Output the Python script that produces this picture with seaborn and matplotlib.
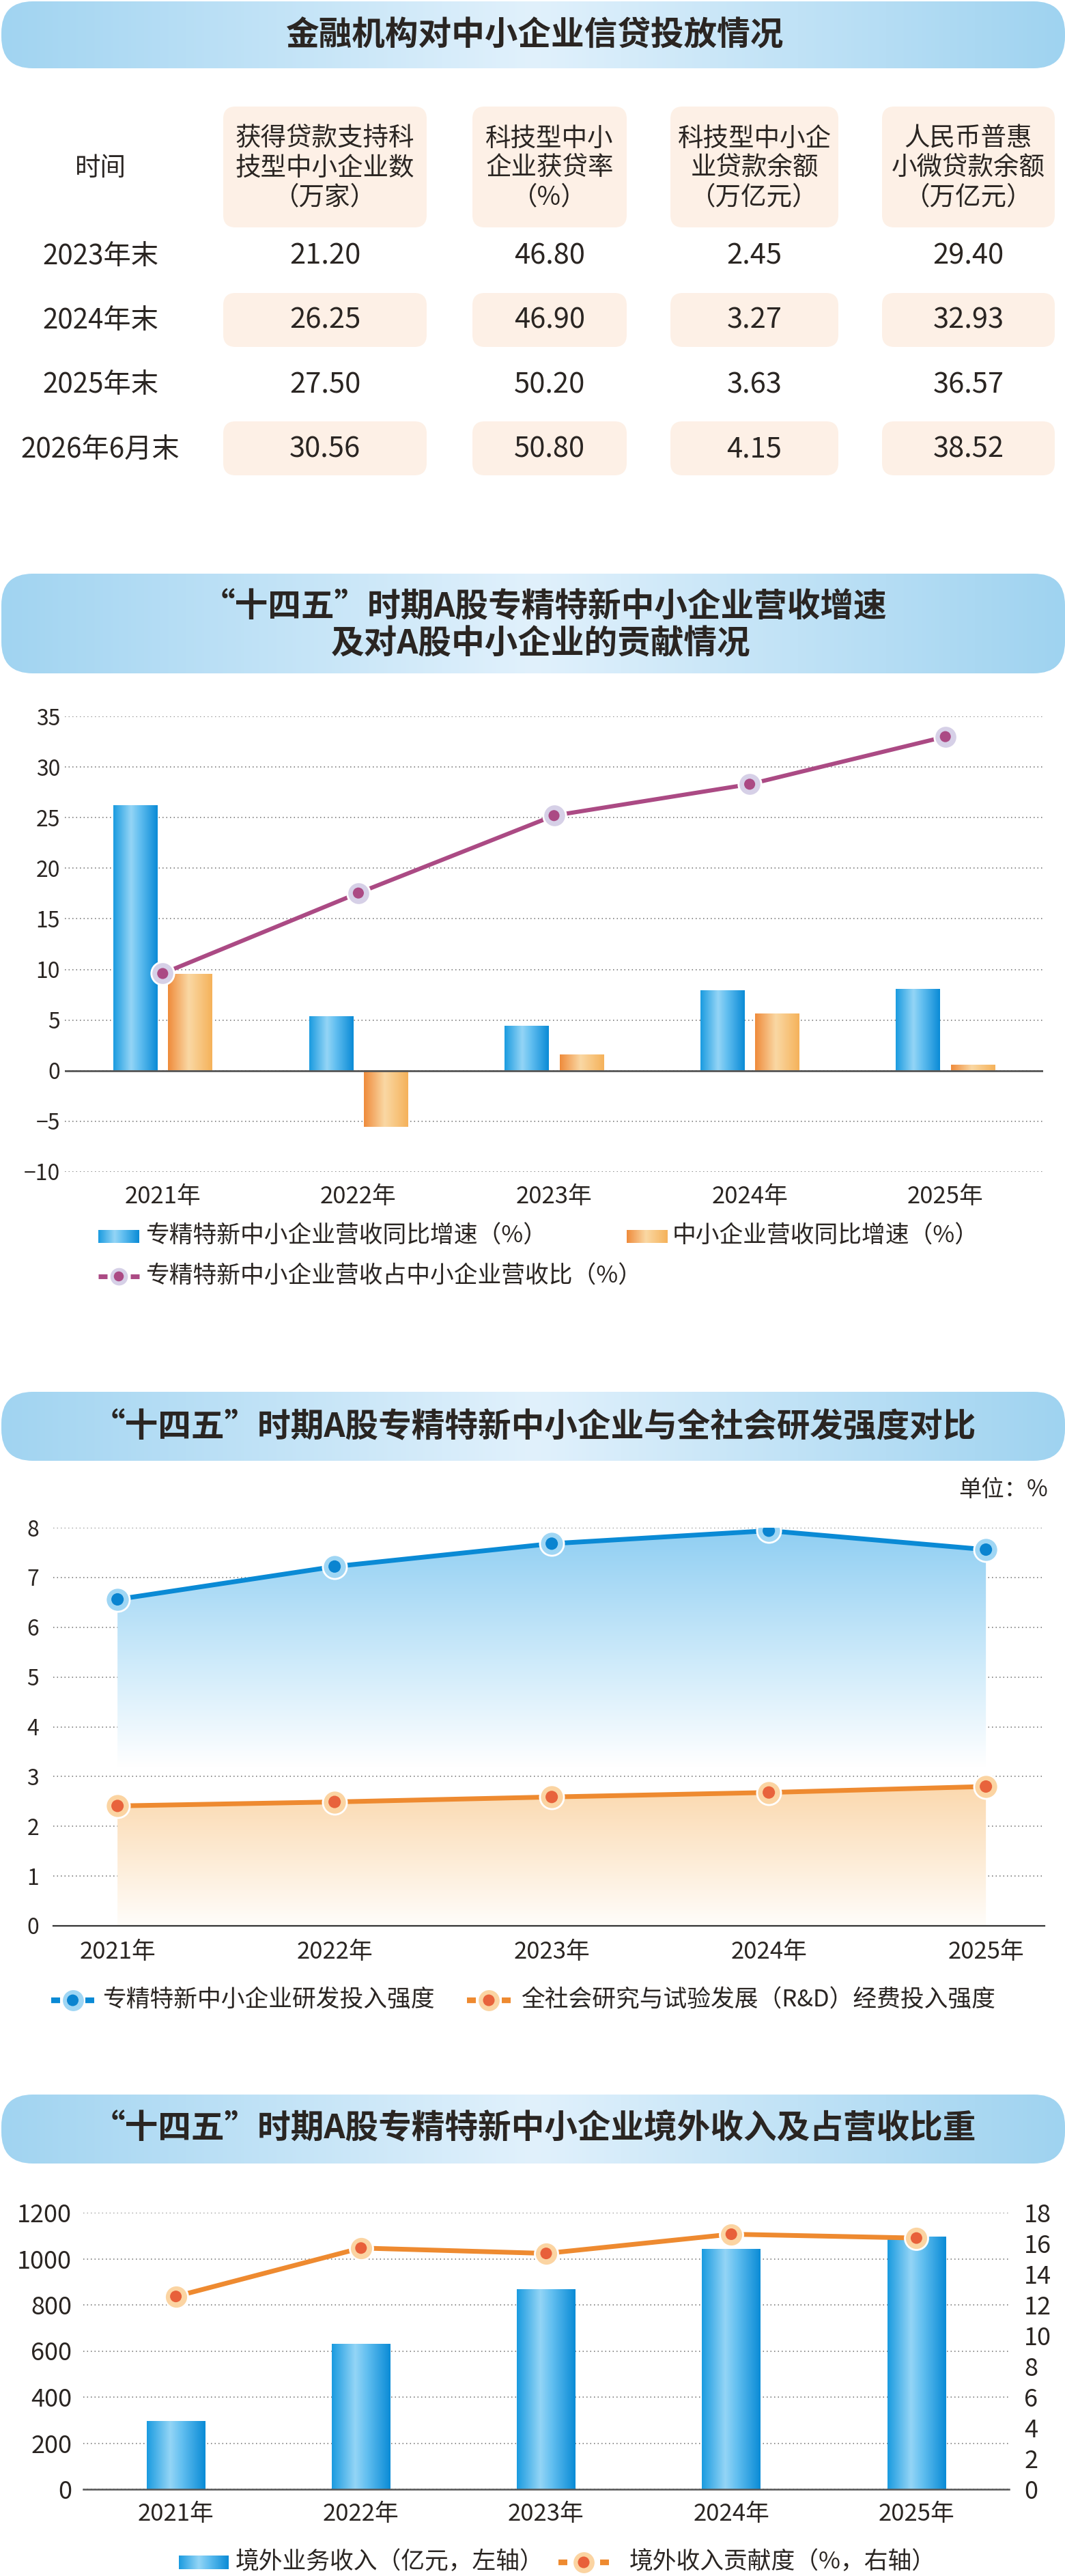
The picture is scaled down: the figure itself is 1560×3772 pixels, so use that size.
import numpy as np
import pandas as pd
import matplotlib
matplotlib.use("Agg")
import matplotlib.pyplot as plt
from matplotlib.patches import FancyBboxPatch
from matplotlib.colors import LinearSegmentedColormap
import seaborn as sns

# ---------------- data ----------------
table_times = ['2023年末', '2024年末', '2025年末', '2026年6月末']
table_headers = [
    ['获得贷款支持科', '技型中小企业数', '（万家）'],
    ['科技型中小', '企业获贷率', '（%）'],
    ['科技型中小企', '业贷款余额', '（万亿元）'],
    ['人民币普惠', '小微贷款余额', '（万亿元）'],
]
loan_firms = [21.20, 26.25, 27.50, 30.56]
loan_rate = [46.80, 46.90, 50.20, 50.80]
tech_loan_balance = [2.45, 3.27, 3.63, 4.15]
inclusive_loan = [29.40, 32.93, 36.57, 38.52]

years = ['2021年', '2022年', '2023年', '2024年', '2025年']
zjtx_growth = [26.2, 5.35, 4.45, 7.95, 8.05]
sme_growth = [9.55, -5.55, 1.6, 5.65, 0.6]
zjtx_share = [9.6, 17.55, 25.2, 28.3, 33.0]
c2_names = ['专精特新中小企业营收同比增速（%）', '中小企业营收同比增速（%）',
            '专精特新中小企业营收占中小企业营收比（%）']

rd_zjtx = [6.56, 7.22, 7.68, 7.94, 7.56]
rd_society = [2.41, 2.49, 2.59, 2.68, 2.80]
c3_names = ['专精特新中小企业研发投入强度', '全社会研究与试验发展（R&D）经费投入强度']

overseas_rev = [294, 629, 866, 1040, 1095]
overseas_share = [12.55, 15.7, 15.35, 16.6, 16.35]
c4_names = ['境外业务收入（亿元，左轴）', '境外收入贡献度（%，右轴）']

titles = ['金融机构对中小企业信贷投放情况',
          ['“十四五”时期A股专精特新中小企业营收增速', '及对A股中小企业的贡献情况'],
          '“十四五”时期A股专精特新中小企业与全社会研发强度对比',
          '“十四五”时期A股专精特新中小企业境外收入及占营收比重']

# ---------------- style ----------------
sns.set_theme(style='white')
plt.rcParams['font.family'] = ['Noto Sans CJK SC', 'DejaVu Sans']
plt.rcParams['axes.unicode_minus'] = True

TXT = '#2a2522'
GRID = '#6e6e6e'
W, H = 1560, 3772
LFS = 25  # legend font size
TFS = 35  # title font size

blue_cmap = LinearSegmentedColormap.from_list(
    'bb', [(0, '#1a9be0'), (0.4, '#94d5f6'), (0.6, '#62bff0'), (1, '#0a8bd6')])
orange_cmap = LinearSegmentedColormap.from_list(
    'oo', [(0, '#ef8b3b'), (0.47, '#fad8a4'), (1, '#f5b25a')])
banner_cmap = LinearSegmentedColormap.from_list(
    'bn', [(0, '#a1d4f1'), (0.5, '#e1f1fc'), (1, '#9fd3f0')])

fig = plt.figure(figsize=(W / 100, H / 100), dpi=100)
fig.patch.set_facecolor('white')
bg = fig.add_axes([0, 0, 1, 1])
bg.set_zorder(0)
bg.axis('off')


def px_axes(l, t, r, b):
    a = fig.add_axes([l / W, 1 - b / H, (r - l) / W, (b - t) / H])
    a.set_zorder(1)
    a.patch.set_alpha(0)
    return a


def hgrad_image(ax, cmap, extent, zorder, clip=None):
    grad = cmap(np.linspace(0, 1, 256))[None, :, :]
    im = ax.imshow(grad, extent=extent, aspect='auto', zorder=zorder,
                   interpolation='bicubic')
    if clip is not None:
        im.set_clip_path(clip)
    return im


def banner(y0, y1):
    x0, x1 = 2, 1560
    p = FancyBboxPatch((x0, y0), x1 - x0, y1 - y0,
                       boxstyle='round,pad=0,rounding_size=46',
                       fc='none', ec='none')
    bg.add_patch(p)
    hgrad_image(bg, banner_cmap, [x0, x1, y1, y0], 1, clip=p)


def rbox(x0, x1, y0, y1, color='#fdf0e6', r=18):
    p = FancyBboxPatch((x0, y0), x1 - x0, y1 - y0,
                       boxstyle=f'round,pad=0,rounding_size={r}',
                       fc=color, ec='none', zorder=1)
    bg.add_patch(p)


# ---------------- banners ----------------
banner(2, 100)
bg.text(783, 52, titles[0], ha='center', va='center', fontsize=TFS,
        fontweight='bold', color=TXT, zorder=3)
banner(840, 986)
bg.text(797, 889, titles[1][0], ha='center', va='center', fontsize=TFS,
        fontweight='bold', color=TXT, zorder=3)
bg.text(792, 943, titles[1][1], ha='center', va='center', fontsize=TFS,
        fontweight='bold', color=TXT, zorder=3)
banner(2038, 2139)
bg.text(782, 2089, titles[2], ha='center', va='center', fontsize=TFS,
        fontweight='bold', color=TXT, zorder=3)
banner(3067, 3168)
bg.text(782, 3116, titles[3], ha='center', va='center', fontsize=TFS,
        fontweight='bold', color=TXT, zorder=3)

# ---------------- table ----------------
col_x = [(327, 625), (692, 918), (982, 1228), (1292, 1545)]
row_y = [375, 469, 564, 658]
row_box = {1: (429, 508), 3: (617, 696)}
for (a, b) in col_x:
    rbox(a, b, 156, 333)
    for i, (c, d) in row_box.items():
        rbox(a, b, c, d)
bg.text(147, 246, '时间', ha='center', va='center', fontsize=27, color=TXT, zorder=3)
for (a, b), lines in zip(col_x, table_headers):
    for k, ln in enumerate(lines):
        bg.text((a + b) / 2, 203 + 43 * k, ln, ha='center', va='center',
                fontsize=27, color=TXT, zorder=3)
cols = [loan_firms, loan_rate, tech_loan_balance, inclusive_loan]
for i, t in enumerate(table_times):
    bg.text(147, row_y[i], t, ha='center', va='center', fontsize=29, color=TXT, zorder=3)
    for (a, b), vals in zip(col_x, cols):
        bg.text((a + b) / 2, row_y[i], f'{vals[i]:.2f}', ha='center', va='center',
                fontsize=30, color=TXT, zorder=3)

# ---------------- chart 2 ----------------
ax2 = px_axes(95, 1049, 1528, 1716)
df2 = pd.DataFrame({'year': years * 2,
                    'value': zjtx_growth + sme_growth,
                    'series': [c2_names[0]] * 5 + [c2_names[1]] * 5})
sns.barplot(data=df2, x='year', y='value', hue='series', hue_order=c2_names[:2],
            palette=['#1a9be0', '#f5b25a'], width=0.56, gap=0.2, saturation=1,
            errorbar=None, legend=False, ax=ax2, zorder=2)
for p in list(ax2.patches):
    fc = p.get_facecolor()
    cm = blue_cmap if fc[2] > fc[0] else orange_cmap
    x0, y0, w, h = p.get_x(), p.get_y(), p.get_width(), p.get_height()
    hgrad_image(ax2, cm, [x0, x0 + w, min(y0, y0 + h), max(y0, y0 + h)], 2)
    p.set_visible(False)
xs = np.arange(len(years))
sns.lineplot(x=xs, y=zjtx_share, ax=ax2, color='#ab4a84', lw=4.4, zorder=3)
sns.scatterplot(x=xs, y=zjtx_share, ax=ax2, s=580, color='#d6d0e7',
                edgecolor='white', linewidth=2, zorder=4)
sns.scatterplot(x=xs, y=zjtx_share, ax=ax2, s=135, color='#ab4a84',
                edgecolor='none', zorder=5)
ax2.set_xlim(-0.5, 4.5)
ax2.set_ylim(-10, 35)
ax2.set_yticks(range(-10, 36, 5))
ax2.yaxis.grid(True, ls=(0, (1, 2.6)), color=GRID, lw=1.1)
ax2.xaxis.grid(False)
ax2.set_axisbelow(True)
ax2.axhline(0, color='#555555', lw=2, zorder=2.5)
for s in ax2.spines.values():
    s.set_visible(False)
ax2.tick_params(axis='y', length=0, pad=5, labelsize=23, labelcolor=TXT)
ax2.tick_params(axis='x', length=0, pad=14, labelsize=25, labelcolor=TXT)
ax2.set_xlabel('')
ax2.set_ylabel('')

# legend chart 2
hgrad_image(bg, blue_cmap, [144, 204, 1820, 1801], 2)
bg.text(213, 1810, c2_names[0], ha='left', va='center', fontsize=LFS, color=TXT, zorder=3)
hgrad_image(bg, orange_cmap, [918, 978, 1820, 1801], 2)
bg.text(985, 1810, c2_names[1], ha='left', va='center', fontsize=LFS, color=TXT, zorder=3)


def legend_marker(x0, x1, yc, lc, outer, inner, lw, so, si):
    bg.plot([x0, x0 + 13], [yc, yc], color=lc, lw=lw, solid_capstyle='butt', zorder=2)
    bg.plot([x1 - 13, x1], [yc, yc], color=lc, lw=lw, solid_capstyle='butt', zorder=2)
    xc = (x0 + x1) / 2
    bg.scatter([xc], [yc], s=so, c=outer, edgecolors='white', linewidths=1.5, zorder=3)
    bg.scatter([xc], [yc], s=si, c=inner, edgecolors='none', zorder=4)


legend_marker(144, 204, 1869, '#ab4a84', '#d6d0e7', '#ab4a84', 5, 400, 110)
bg.text(213, 1869, c2_names[2], ha='left', va='center', fontsize=LFS, color=TXT, zorder=3)

# ---------------- chart 3 ----------------
ax3 = px_axes(78, 2237, 1530, 2820)
x3 = np.arange(len(years))
poly_b = ax3.fill_between(x3, rd_zjtx, 3.2, facecolor='none', edgecolor='none')
vb = LinearSegmentedColormap.from_list('vb', [(0, '#8fcef2'), (0.55, '#cdeafa'), (1, '#ffffff')])
gimg = vb(np.linspace(0, 1, 256))[:, None, :]
imb = ax3.imshow(gimg, extent=[0, 4, 3.2, 8], aspect='auto', zorder=1.5,
                 interpolation='bicubic', origin='upper')
imb.set_clip_path(poly_b.get_paths()[0], ax3.transData)
poly_o = ax3.fill_between(x3, rd_society, 0, facecolor='none', edgecolor='none')
vo = LinearSegmentedColormap.from_list('vo', [(0, '#fbd8ad'), (1, '#fffdfa')])
gimg2 = vo(np.linspace(0, 1, 256))[:, None, :]
imo = ax3.imshow(gimg2, extent=[0, 4, 0, 2.85], aspect='auto', zorder=1.5,
                 interpolation='bicubic', origin='upper')
imo.set_clip_path(poly_o.get_paths()[0], ax3.transData)

sns.lineplot(x=x3, y=rd_zjtx, ax=ax3, color='#0a8ad5', lw=5, zorder=3)
sns.scatterplot(x=x3, y=rd_zjtx, ax=ax3, s=640, color='#9fd6f4',
                edgecolor='white', linewidth=2, zorder=4)
sns.scatterplot(x=x3, y=rd_zjtx, ax=ax3, s=170, color='#0a84d0',
                edgecolor='none', zorder=5)
sns.lineplot(x=x3, y=rd_society, ax=ax3, color='#ee8a30', lw=5, zorder=3)
sns.scatterplot(x=x3, y=rd_society, ax=ax3, s=640, color='#fbd4a2',
                edgecolor='white', linewidth=2, zorder=4)
sns.scatterplot(x=x3, y=rd_society, ax=ax3, s=170, color='#e8633c',
                edgecolor='none', zorder=5)
ax3.set_xlim(-0.296, 4.27)
ax3.set_ylim(0, 8)
ax3.set_yticks(range(0, 9))
ax3.set_xticks(x3)
ax3.set_xticklabels(years)
ax3.yaxis.grid(True, ls=(0, (1, 2.6)), color=GRID, lw=1.1)
ax3.xaxis.grid(False)
ax3.set_axisbelow(True)
for k, s in ax3.spines.items():
    s.set_visible(k == 'bottom')
ax3.spines['bottom'].set_color('#333333')
ax3.spines['bottom'].set_linewidth(1.6)
ax3.spines['bottom'].set_zorder(6)
ax3.tick_params(axis='y', length=0, pad=15, labelsize=23, labelcolor=TXT)
ax3.tick_params(axis='x', length=0, pad=15, labelsize=25, labelcolor=TXT)
ax3.set_xlabel('')
ax3.set_ylabel('')
bg.text(1535, 2182, '单位：%', ha='right', va='center', fontsize=24, color=TXT, zorder=3)

legend_marker(75, 138, 2929, '#0a8ad5', '#9fd6f4', '#0a84d0', 6, 560, 150)
bg.text(150, 2929, c3_names[0], ha='left', va='center', fontsize=LFS, color=TXT, zorder=3)
legend_marker(684, 748, 2929, '#ee8a30', '#fbd4a2', '#e8633c', 6, 560, 150)
bg.text(763, 2929, c3_names[1], ha='left', va='center', fontsize=LFS, color=TXT, zorder=3)

# ---------------- chart 4 ----------------
ax4 = px_axes(122, 3240, 1478, 3645)
df4 = pd.DataFrame({'year': years, 'value': overseas_rev})
sns.barplot(data=df4, x='year', y='value', color='#1a9be0', width=0.315,
            saturation=1, errorbar=None, ax=ax4, zorder=2)
for p in list(ax4.patches):
    x0, y0, w, h = p.get_x(), p.get_y(), p.get_width(), p.get_height()
    hgrad_image(ax4, blue_cmap, [x0, x0 + w, y0, y0 + h], 2)
    p.set_visible(False)
ax4.set_xlim(-0.5, 4.5)
ax4.set_ylim(0, 1200)
ax4.set_yticks(range(0, 1201, 200))
ax4.yaxis.grid(True, ls=(0, (1, 2.6)), color=GRID, lw=1.1)
ax4.xaxis.grid(False)
ax4.set_axisbelow(True)
for k, s in ax4.spines.items():
    s.set_visible(k == 'bottom')
ax4.spines['bottom'].set_color('#555555')
ax4.spines['bottom'].set_linewidth(1.8)
ax4.tick_params(axis='y', length=0, pad=12, labelsize=26, labelcolor=TXT)
ax4.tick_params(axis='x', length=0, pad=14, labelsize=25, labelcolor=TXT)
ax4.set_xlabel('')
ax4.set_ylabel('')

ax4r = ax4.twinx()
x4 = np.arange(len(years))
sns.lineplot(x=x4, y=overseas_share, ax=ax4r, color='#ee8a30', lw=5, zorder=3)
sns.scatterplot(x=x4, y=overseas_share, ax=ax4r, s=600, color='#fbd4a2',
                edgecolor='white', linewidth=2, zorder=4)
sns.scatterplot(x=x4, y=overseas_share, ax=ax4r, s=150, color='#e8603a',
                edgecolor='none', zorder=5)
ax4r.set_ylim(0, 18)
ax4r.set_yticks(range(0, 19, 2))
ax4r.set_xlim(-0.5, 4.5)
for s in ax4r.spines.values():
    s.set_visible(False)
ax4r.tick_params(axis='y', length=0, pad=16, labelsize=26, labelcolor=TXT)
ax4r.set_ylabel('')
ax4r.grid(False)

hgrad_image(bg, blue_cmap, [262, 335, 3762, 3742], 2)
bg.text(345, 3752, c4_names[0], ha='left', va='center', fontsize=LFS, color=TXT, zorder=3)
legend_marker(818, 892, 3752, '#ee8a30', '#fbd4a2', '#e8603a', 6, 560, 150)
bg.text(922, 3752, c4_names[1], ha='left', va='center', fontsize=LFS, color=TXT, zorder=3)

bg.set_xlim(0, W)
bg.set_ylim(H, 0)

fig.savefig('out.png', dpi=100, facecolor='white')
